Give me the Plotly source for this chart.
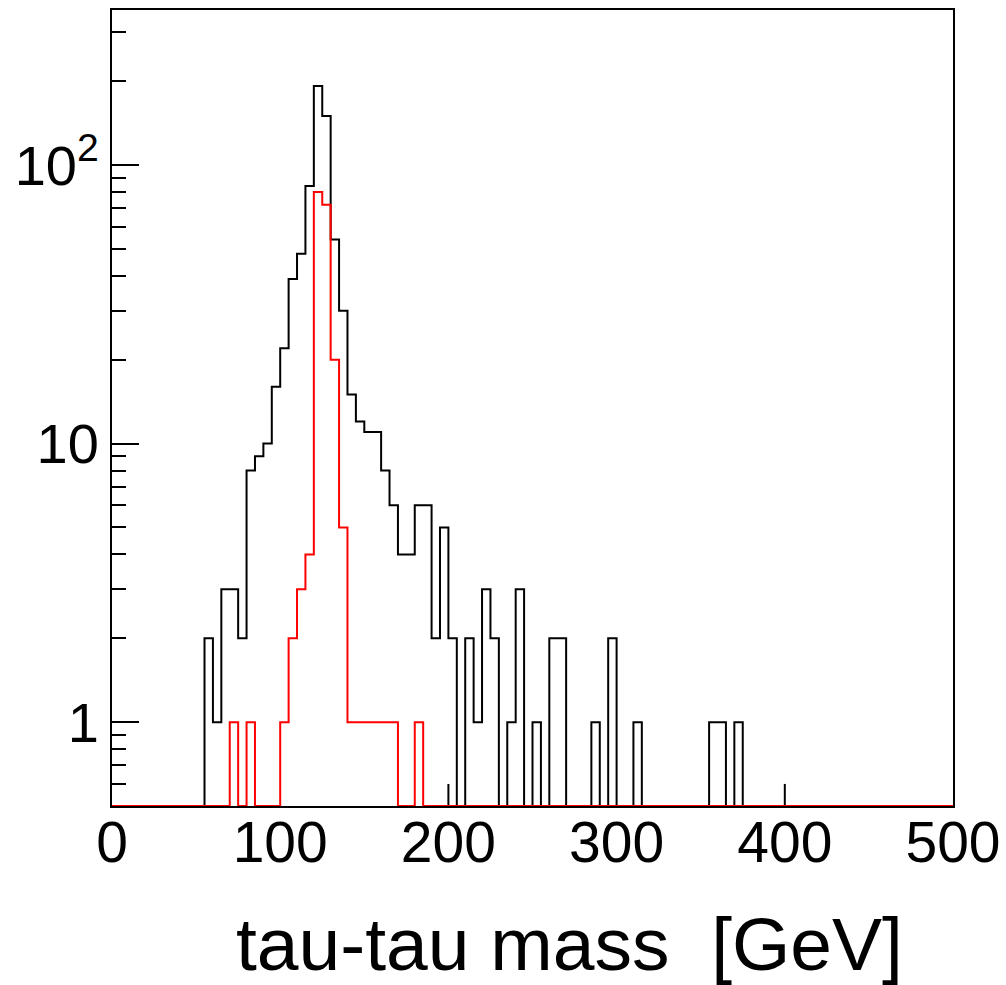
import numpy as np
import plotly.graph_objects as go

# ---- data (5 GeV bins from 0 to 500) ----
bin_width = 5
x_min, x_max = 0, 500

# black histogram: counts per bin, starting at bin 0-5
black_counts = [
    0, 0, 0, 0, 0, 0, 0, 0, 0, 0,        # 0-50
    0, 2, 1, 3, 3, 2, 8, 9, 10, 16,      # 50-100
    22, 39, 48, 84, 192, 150, 54, 30, 15, 12,  # 100-150
    11, 11, 8, 6, 4, 4, 6, 6, 2, 5,      # 150-200
    2, 0, 2, 1, 3, 2, 0, 1, 3, 0,        # 200-250
    1, 0, 2, 2, 0, 0, 0, 1, 0, 2,        # 250-300
    0, 0, 1, 0, 0, 0, 0, 0, 0, 0,        # 300-350
    0, 1, 1, 0, 1, 0, 0, 0, 0, 0,        # 350-400
    0, 0, 0, 0, 0, 0, 0, 0, 0, 0,        # 400-450
    0, 0, 0, 0, 0, 0, 0, 0, 0, 0,        # 450-500
]

# red histogram
red_counts = [
    0, 0, 0, 0, 0, 0, 0, 0, 0, 0,        # 0-50
    0, 0, 0, 0, 1, 0, 1, 0, 0, 0,        # 50-100
    1, 2, 3, 4, 80, 72, 20, 5, 1, 1,     # 100-150
    1, 1, 1, 1, 0, 0, 1, 0, 0, 0,        # 150-200
] + [0] * 60                              # 200-500

# small stubs drawn at the bottom of the black histogram
stub_x = [200, 400]
stub_top = [0.6, 0.6]

x_ticks = [0, 100, 200, 300, 400, 500]
y_ticks = [1, 10, 100]
y_ticktext = ["1", "10", "10<sup>2</sup>"]
y_minor = [0.6, 0.7, 0.8, 0.9, 2, 3, 4, 5, 6, 7, 8, 9,
           20, 30, 40, 50, 60, 70, 80, 90, 200, 300]
y_lo, y_hi = 0.5, 360

x_title = "tau-tau mass\u00a0 [GeV]"


def step_xy(counts):
    edges = [x_min + i * bin_width for i in range(len(counts) + 1)]
    ys = [max(c, y_lo) for c in counts]
    xs = edges
    ys = ys + [ys[-1]]
    return xs, ys


bx, by = step_xy(black_counts)
rx, ry = step_xy(red_counts)

sx, sy = [], []
for xv, tv in zip(stub_x, stub_top):
    sx += [xv, xv, None]
    sy += [y_lo, tv, None]

fig = go.Figure()
fig.add_trace(go.Scatter(x=bx, y=by, mode="lines", line_shape="hv",
                         line=dict(color="black", width=2),
                         cliponaxis=False, showlegend=False))
fig.add_trace(go.Scatter(x=sx, y=sy, mode="lines",
                         line=dict(color="black", width=2),
                         cliponaxis=False, showlegend=False))
fig.add_trace(go.Scatter(x=rx, y=ry, mode="lines", line_shape="hv",
                         line=dict(color="#ff0000", width=2),
                         cliponaxis=False, showlegend=False))

font_family = "Liberation Sans, Arial, Helvetica, sans-serif"

fig.update_layout(
    width=1006, height=985,
    margin=dict(l=112, r=53, t=10, b=179),
    paper_bgcolor="white", plot_bgcolor="white",
    font=dict(family=font_family, color="black"),
    xaxis=dict(range=[x_min, x_max], tickvals=x_ticks,
               ticktext=[str(v) for v in x_ticks],
               showline=True, mirror=True, linecolor="black", linewidth=2,
               ticks="", showgrid=False, zeroline=False,
               ticklabelstandoff=-14, automargin=False,
               tickfont=dict(size=57, family=font_family),
               layer="below traces"),
    yaxis=dict(type="log", range=[np.log10(y_lo), np.log10(y_hi)],
               tickmode="array", tickvals=y_ticks, ticktext=y_ticktext,
               showline=True, mirror=True, linecolor="black", linewidth=2,
               ticks="inside", ticklen=27, tickwidth=2, tickcolor="black",
               minor=dict(tickmode="array", tickvals=y_minor, ticks="inside",
                          ticklen=14, tickwidth=2, tickcolor="black",
                          showgrid=False),
               showgrid=False, zeroline=False, automargin=False,
               tickfont=dict(size=56, family=font_family),
               layer="below traces"),
)

fig.add_annotation(text=x_title, xref="paper", yref="paper",
                   x=(905 - 112) / 841, y=-(900 - 806) / 796,
                   xanchor="right", yanchor="top", showarrow=False,
                   font=dict(size=75, family=font_family, color="black"))

fig.write_html("out.html")
